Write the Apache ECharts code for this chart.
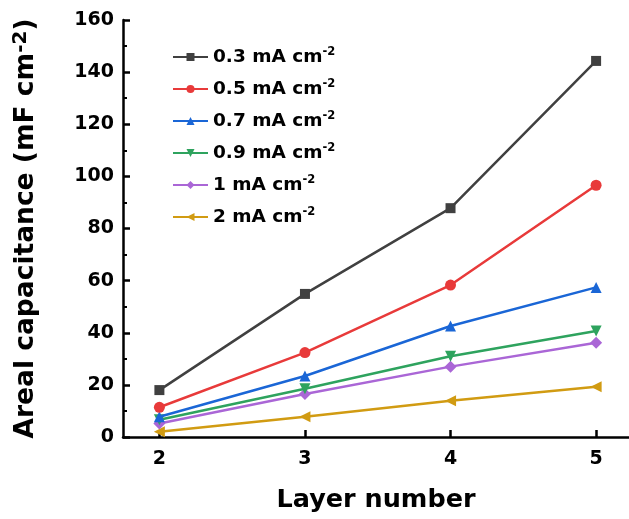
<!DOCTYPE html>
<html><head><meta charset="utf-8">
<script src="https://cdn.jsdelivr.net/npm/echarts@6/dist/echarts.min.js"></script>
<style>html,body{margin:0;padding:0;background:#fff}#c{width:629px;height:519px}</style>
</head><body><div id="c"></div>
<script>
const layers = [2, 3, 4, 5];
const seriesNames = ['0.3', '0.5', '0.7', '0.9', '1', '2'];
const s03 = [18.0, 54.9, 87.8, 144.3];
const s05 = [11.4, 32.4, 58.3, 96.6];
const s07 = [7.8, 23.4, 42.6, 57.4];
const s09 = [6.6, 18.5, 31.0, 40.7];
const s1  = [5.2, 16.5, 27.0, 36.2];
const s2  = [2.0, 7.8, 13.9, 19.3];
const yTicks = [0, 20, 40, 60, 80, 100, 120, 140, 160];

const values = [s03, s05, s07, s09, s1, s2];
const colors = ['#404040', '#e83a3a', '#1a66d6', '#2ea35e', '#aa66d6', '#d19b12'];
const symbols = ['rect', 'circle', 'triangle', 'path://M0,0 L10,0 L5,9 Z', 'diamond', 'path://M9,0 L9,10 L0,5 Z'];
const sizes = [10, 11, 11, 11, 12, 11];

const font = '"DejaVu Sans", sans-serif';
const chart = echarts.init(document.getElementById('c'), null, {renderer: 'canvas'});
chart.setOption({
  animation: false,
  backgroundColor: '#fff',
  grid: {left: 123, top: 20, right: 0, bottom: 82},
  legend: {
    orient: 'vertical', left: 167, top: 41, itemGap: 11.5,
    itemWidth: 35, itemHeight: 10,
    data: seriesNames.map(n => n + ' mA'),
    formatter: name => '{a|' + name + ' cm}{s|-2}',
    textStyle: {
      rich: {
        a: {fontFamily: font, fontWeight: 'bold', fontSize: 18.5, lineHeight: 22, color: '#000'},
        s: {fontFamily: font, fontWeight: 'bold', fontSize: 11.5, lineHeight: 22, color: '#000', verticalAlign: 'top', padding: [0, 0, 8, 0]}
      }
    }
  },
  xAxis: {
    type: 'value', min: 1.75, max: 5.226,
    name: 'Layer number', nameLocation: 'middle', nameGap: 50,
    nameTextStyle: {fontFamily: font, fontWeight: 'bold', fontSize: 25.5, color: '#000'},
    axisLine: {onZero: false, lineStyle: {color: '#000', width: 2.5}},
    axisTick: {inside: true, length: 7, lineStyle: {width: 2.5, color: '#000'}, customValues: layers},
    axisLabel: {fontFamily: font, fontWeight: 'bold', fontSize: 19, color: '#000', margin: 13, customValues: layers},
    splitLine: {show: false}
  },
  yAxis: {
    type: 'value', min: 0, max: 160, interval: 20,
    name: '{a|Areal capacitance (mF cm}{s|-2}{a|)}', nameLocation: 'middle', nameGap: 81,
    nameTextStyle: {
      rich: {
        a: {fontFamily: font, fontWeight: 'bold', fontSize: 26.5, lineHeight: 31, color: '#000'},
        s: {fontFamily: font, fontWeight: 'bold', fontSize: 20, lineHeight: 31, color: '#000', verticalAlign: 'top', padding: [0, 0, 8, 0]}
      }
    },
    axisLine: {show: true, lineStyle: {color: '#000', width: 2.5}},
    axisTick: {inside: true, length: 7, lineStyle: {width: 2.5, color: '#000'}},
    minorTick: {show: true, splitNumber: 2, length: 4, lineStyle: {width: 2, color: '#000'}},
    axisLabel: {fontFamily: font, fontWeight: 'bold', fontSize: 19, color: '#000', margin: 9,
      formatter: v => yTicks.includes(v) ? String(v) : ''},
    splitLine: {show: false}
  },
  series: values.map((vals, i) => ({
    name: seriesNames[i] + ' mA',
    type: 'line',
    data: layers.map((x, j) => [x, vals[j]]),
    symbol: symbols[i], symbolSize: sizes[i], showSymbol: true,
    lineStyle: {color: colors[i], width: 2.5},
    itemStyle: {color: colors[i]},
    z: 10 - i
  }))
});
</script></body></html>
